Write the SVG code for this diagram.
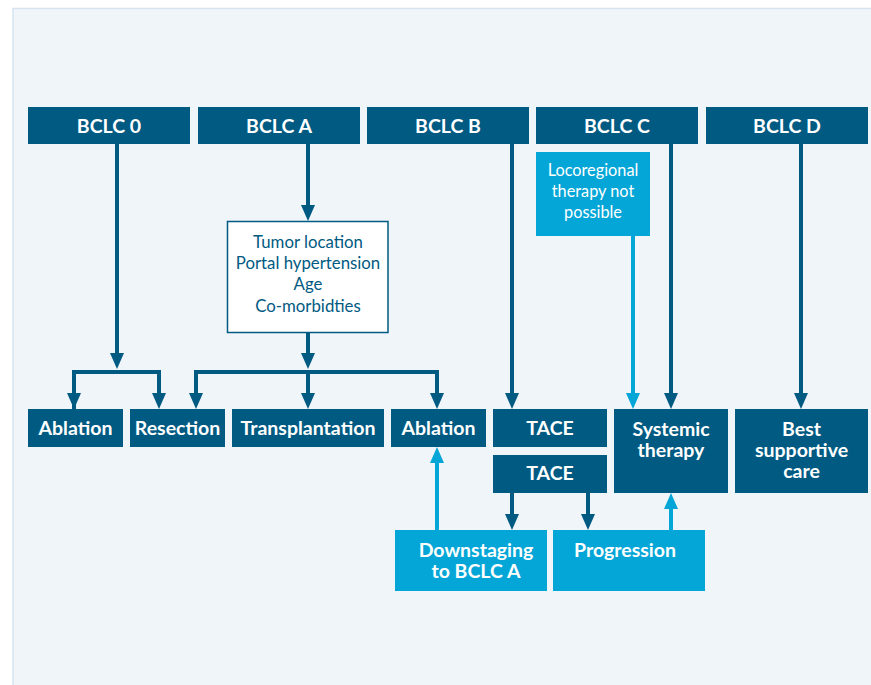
<svg xmlns="http://www.w3.org/2000/svg" width="871" height="685" viewBox="0 0 871 685">
<style>
.dk{fill:#005a82}
.lt{fill:#03a6d7}
.wt{fill:#ffffff;stroke:#005a82;stroke-width:1.5}
.lb{font-family:Lato,"Open Sans","Liberation Sans",sans-serif;font-weight:700;font-size:19.5px;fill:#ffffff;text-anchor:middle}
.sm{font-family:Lato,"Open Sans","Liberation Sans",sans-serif;font-weight:400;font-size:16.8px;fill:#005a82;text-anchor:middle}
.lo{font-family:Lato,"Open Sans","Liberation Sans",sans-serif;font-weight:400;font-size:16.3px;fill:#ffffff;text-anchor:middle}
.cd{fill:none;stroke:#005a82;stroke-width:4}
.cl{fill:none;stroke:#03a6d7;stroke-width:4}
</style>
<defs>
<marker id="ad" viewBox="0 0 16 14" refX="10" refY="7" markerWidth="16" markerHeight="14" markerUnits="userSpaceOnUse" orient="auto"><path d="M0,0 L16,7 L0,14 z" fill="#005a82"/></marker>
<marker id="al" viewBox="0 0 16 14" refX="10" refY="7" markerWidth="16" markerHeight="14" markerUnits="userSpaceOnUse" orient="auto"><path d="M0,0 L16,7 L0,14 z" fill="#03a6d7"/></marker>
</defs>
<rect x="0" y="0" width="871" height="685" fill="#ffffff"/>
<rect x="13" y="8.5" width="870" height="690" fill="#f0f5fa" stroke="#d5e3f0" stroke-width="1.5"/>

<g id="connectors">
<path class="cd" d="M117,144 V363" marker-end="url(#ad)"/>
<path class="cd" d="M74,409 V372 H159 V403" marker-end="url(#ad)"/>
<path class="cd" d="M74,372 V403" marker-end="url(#ad)"/>
<path class="cd" d="M308,144 V215" marker-end="url(#ad)"/>
<path class="cd" d="M308,333 V363" marker-end="url(#ad)"/>
<path class="cd" d="M196,403 V372 H437 V403" marker-end="url(#ad)"/>
<path class="cd" d="M196,378 V403" marker-end="url(#ad)"/>
<path class="cd" d="M308,372 V403" marker-end="url(#ad)"/>
<path class="cd" d="M512,144 V403" marker-end="url(#ad)"/>
<path class="cd" d="M671,144 V403" marker-end="url(#ad)"/>
<path class="cd" d="M801,144 V403" marker-end="url(#ad)"/>
<path class="cl" d="M633,236 V403" marker-end="url(#al)"/>
<path class="cl" d="M437,530 V453" marker-end="url(#al)"/>
<path class="cl" d="M671,530 V499" marker-end="url(#al)"/>
<path class="cd" d="M512,493 V524" marker-end="url(#ad)"/>
<path class="cd" d="M588,493 V524" marker-end="url(#ad)"/>
</g>

<g id="bclc0"><rect class="dk" x="28" y="107" width="162" height="37"/><text class="lb" x="109" y="133">BCLC 0</text></g>
<g id="bclcA"><rect class="dk" x="198" y="107" width="162" height="37"/><text class="lb" x="279" y="133">BCLC A</text></g>
<g id="bclcB"><rect class="dk" x="367" y="107" width="162" height="37"/><text class="lb" x="448" y="133">BCLC B</text></g>
<g id="bclcC"><rect class="dk" x="536" y="107" width="162" height="37"/><text class="lb" x="617" y="133">BCLC C</text></g>
<g id="bclcD"><rect class="dk" x="706" y="107" width="162" height="37"/><text class="lb" x="787" y="133">BCLC D</text></g>

<g id="loco"><rect class="lt" x="536" y="152" width="114" height="84"/>
<text class="lo" x="593" y="176">Locoregional</text><text class="lo" x="593" y="197">therapy not</text><text class="lo" x="593" y="218">possible</text></g>

<g id="factors"><rect class="wt" x="227.5" y="221.5" width="160.5" height="111"/>
<text class="sm" x="308" y="248">Tumor location</text><text class="sm" x="308" y="269">Portal hypertension</text><text class="sm" x="308" y="290">Age</text><text class="sm" x="308" y="312">Co-morbidties</text></g>

<g id="ablation1"><rect class="dk" x="28" y="409" width="95" height="38"/><text class="lb" x="75.5" y="435">Ablation</text></g>
<g id="resection"><rect class="dk" x="130" y="409" width="95" height="38"/><text class="lb" x="177.5" y="435">Resection</text></g>
<g id="transplantation"><rect class="dk" x="232" y="409" width="152" height="38"/><text class="lb" x="308" y="435">Transplantation</text></g>
<g id="ablation2"><rect class="dk" x="391" y="409" width="95" height="38"/><text class="lb" x="438.5" y="435">Ablation</text></g>
<g id="tace1"><rect class="dk" x="493" y="409" width="114" height="38"/><text class="lb" x="550" y="435">TACE</text></g>
<g id="tace2"><rect class="dk" x="493" y="455" width="114" height="38"/><text class="lb" x="550" y="480">TACE</text></g>
<g id="systemic"><rect class="dk" x="614" y="409" width="114" height="84"/><text class="lb" x="671" y="436">Systemic</text><text class="lb" x="671" y="457">therapy</text></g>
<g id="bsc"><rect class="dk" x="735" y="409" width="133" height="84"/><text class="lb" x="801.5" y="436">Best</text><text class="lb" x="801.5" y="457">supportive</text><text class="lb" x="801.5" y="478">care</text></g>
<g id="downstaging"><rect class="lt" x="395" y="530" width="152" height="61"/><text class="lb" x="476" y="557">Downstaging</text><text class="lb" x="476" y="578">to BCLC A</text></g>
<g id="progression"><rect class="lt" x="553" y="530" width="152" height="61"/><text class="lb" x="625" y="557">Progression</text></g>
</svg>
